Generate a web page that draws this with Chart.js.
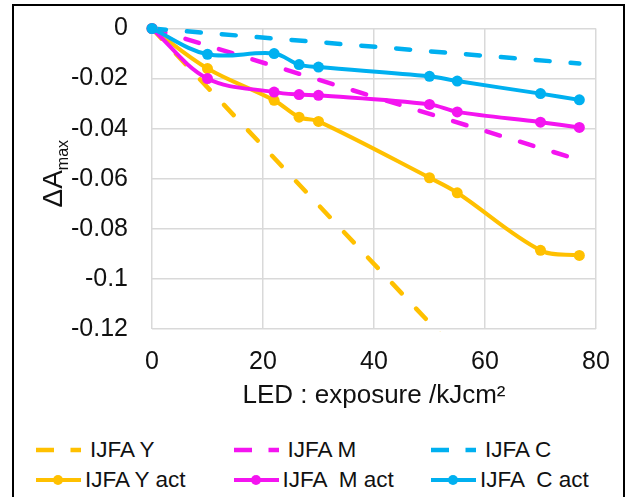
<!DOCTYPE html>
<html>
<head>
<meta charset="utf-8">
<script src="https://cdn.jsdelivr.net/npm/chart.js@4.4.1/dist/chart.umd.min.js"></script>
<style>
  html, body { margin: 0; padding: 0; background: #fff; overflow: hidden; }
  body { width: 632px; height: 497px; position: relative; font-family: "Liberation Sans", Arial, sans-serif; }
  .frame { position: absolute; left: 12px; top: 4px; width: 609px; height: 600px; border: 2px solid #000; }
  #plot { position: absolute; left: 0; top: 0; }
  #legend { position: absolute; left: 36px; top: 435px; display: grid; grid-template-columns: repeat(3, 197.5px); grid-auto-rows: 30px; }
  .item { display: flex; align-items: center; font-size: 22.5px; color: #111; white-space: pre; }
  .item svg { flex: none; }
</style>
</head>
<body>
<div class="frame"></div>
<canvas id="plot" width="632" height="411"></canvas>
<div id="legend"></div>
<script>
// LED exposure (kJ/cm2) at each measurement
const exposure = [0, 10, 22, 26.5, 30, 50, 55, 70, 77]

// measured change in max absorbance
const yAct = [0, -0.016, -0.0287, -0.0354, -0.0371, -0.0596, -0.0656, -0.0886, -0.0906]
const mAct = [0, -0.020, -0.0254, -0.0264, -0.0267, -0.0303, -0.0333, -0.0374, -0.0395]
const cAct = [0, -0.0103, -0.0100, -0.0144, -0.0154, -0.0191, -0.0210, -0.0260, -0.0285]

// predicted fade lines (start / end)
const predX = [0, 77]
const yPred = [0, -0.181]
const mPred = [0, -0.0525]
const cPred = [0, -0.014]

const xTicks = [0, 20, 40, 60, 80]
const yTicks = [0, -0.02, -0.04, -0.06, -0.08, -0.1, -0.12]
const yTickLabels = ["0", "-0.02", "-0.04", "-0.06", "-0.08", "-0.1", "-0.12"]

const YELLOW = "#FFC000"
const MAGENTA = "#F414F0"
const CYAN = "#00B0F0"
const FONT = "'Liberation Sans', Arial, sans-serif"

const pairs = (xs, ys) => xs.map((x, i) => ({ x, y: ys[i] }))

const dashed = (label, xs, ys, color, order) => ({
  label,
  data: pairs(xs, ys),
  borderColor: color,
  backgroundColor: color,
  borderWidth: 4.5,
  borderDash: [14, 21],
  borderCapStyle: "round",
  pointRadius: 0,
  clip: 3,
  order,
})

const solid = (label, xs, ys, color, order) => ({
  label,
  data: pairs(xs, ys),
  borderColor: color,
  backgroundColor: color,
  borderWidth: 4,
  tension: 0.35,
  pointRadius: 5.5,
  pointBorderWidth: 0,
  pointBackgroundColor: color,
  clip: false,
  order,
})

function legendIcon(ds) {
  const ns = "http://www.w3.org/2000/svg"
  const svg = document.createElementNS(ns, "svg")
  svg.setAttribute("width", 45)
  svg.setAttribute("height", 14)
  const line = document.createElementNS(ns, "line")
  line.setAttribute("x1", 0)
  line.setAttribute("x2", 45)
  line.setAttribute("y1", 7)
  line.setAttribute("y2", 7)
  line.setAttribute("stroke", ds.borderColor)
  line.setAttribute("stroke-width", ds.borderWidth)
  if (ds.borderDash) line.setAttribute("stroke-dasharray", "18 16.5 10.5")
  svg.appendChild(line)
  if (ds.pointRadius) {
    const dot = document.createElementNS(ns, "circle")
    dot.setAttribute("cx", 22)
    dot.setAttribute("cy", 7)
    dot.setAttribute("r", 5)
    dot.setAttribute("fill", ds.borderColor)
    svg.appendChild(dot)
  }
  return svg
}

// legend as a 3-column grid under the chart
const htmlLegend = {
  id: "htmlLegend",
  afterUpdate(chart) {
    const box = document.getElementById("legend")
    box.innerHTML = ""
    chart.data.datasets.forEach(ds => {
      const item = document.createElement("div")
      item.className = "item"
      item.appendChild(legendIcon(ds))
      const text = document.createElement("span")
      text.textContent = ds.label
      text.style.marginLeft = ds.borderDash ? "9px" : "4px"
      item.appendChild(text)
      box.appendChild(item)
    })
  },
}

// rotated y title with subscript
const yTitle = {
  id: "yTitle",
  afterDraw(chart) {
    const ctx = chart.ctx
    ctx.save()
    ctx.fillStyle = "#111"
    ctx.textBaseline = "alphabetic"
    ctx.font = "28px " + FONT
    const main = ctx.measureText("ΔA").width
    ctx.font = "16px " + FONT
    const sub = ctx.measureText("max").width
    const mid = (chart.chartArea.top + chart.chartArea.bottom) / 2 - 5
    ctx.translate(62, mid + (main + sub) / 2)
    ctx.rotate(-Math.PI / 2)
    ctx.font = "28px " + FONT
    ctx.fillText("ΔA", 0, 0)
    ctx.font = "16px " + FONT
    ctx.fillText("max", main, 6)
    ctx.restore()
  },
}

// keep tick-label overflow from shifting the plot area
const noEdgePadding = scale => {
  scale.paddingTop = 0
  scale.paddingBottom = 0
  scale.paddingLeft = 0
  scale.paddingRight = 0
}

new Chart(document.getElementById("plot"), {
  type: "line",
  data: {
    datasets: [
      dashed("IJFA Y", predX, yPred, YELLOW, 6),
      dashed("IJFA M", predX, mPred, MAGENTA, 5),
      dashed("IJFA C", predX, cPred, CYAN, 4),
      solid("IJFA Y act", exposure, yAct, YELLOW, 3),
      solid("IJFA  M act", exposure, mAct, MAGENTA, 2),
      solid("IJFA  C act", exposure, cAct, CYAN, 1),
    ],
  },
  options: {
    responsive: false,
    animation: false,
    events: [],
    layout: { padding: { left: 0, right: 36, top: 28.5, bottom: 0 } },
    plugins: {
      legend: { display: false },
      tooltip: { enabled: false },
    },
    scales: {
      x: {
        type: "linear",
        min: 0,
        max: 80,
        afterBuildTicks: scale => { scale.ticks = xTicks.map(value => ({ value })) },
        afterFit: scale => { scale.height = 82; noEdgePadding(scale) },
        grid: { color: "#D9D9D9", lineWidth: 1.5, drawTicks: false },
        border: { display: false },
        ticks: { color: "#111", font: { family: FONT, size: 25 }, padding: 18, maxRotation: 0 },
        title: {
          display: true,
          text: "LED : exposure /kJcm²",
          color: "#111",
          font: { family: FONT, size: 26 },
          padding: { top: 0, bottom: 0 },
        },
      },
      y: {
        min: -0.12,
        max: 0,
        afterBuildTicks: scale => { scale.ticks = yTicks.map(value => ({ value })) },
        afterFit: scale => { scale.width = 152; noEdgePadding(scale) },
        grid: { color: "#D9D9D9", lineWidth: 1.5, drawTicks: false },
        border: { display: false },
        ticks: {
          color: "#111",
          font: { family: FONT, size: 25 },
          padding: 24,
          callback: (value, i) => yTickLabels[i],
        },
      },
    },
  },
  plugins: [htmlLegend, yTitle],
})
</script>
</body>
</html>
